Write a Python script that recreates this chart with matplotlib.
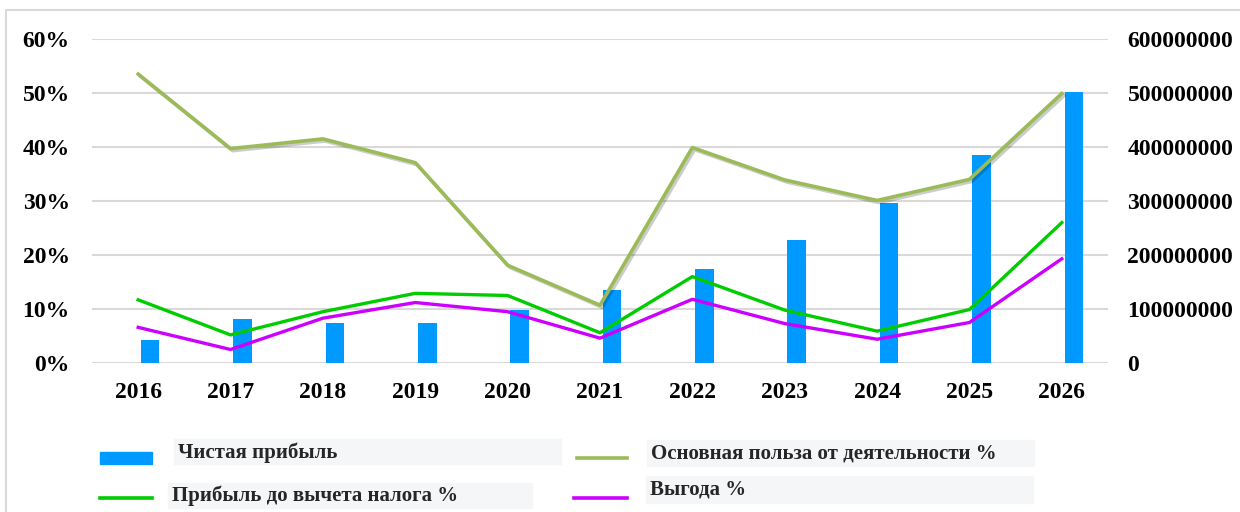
import matplotlib
matplotlib.use("Agg")
import matplotlib.pyplot as plt
import matplotlib.patheffects as pe
from matplotlib.patches import Rectangle
from matplotlib.lines import Line2D
from matplotlib.ticker import FuncFormatter

plt.rcParams['font.family'] = ['Liberation Serif', 'DejaVu Serif']
plt.rcParams['font.weight'] = 'bold'

# === data ===
years = ['2016', '2017', '2018', '2019', '2020', '2021', '2022', '2023', '2024', '2025', '2026']
net_profit = [43e6, 81e6, 75e6, 74e6, 98e6, 135e6, 175e6, 227e6, 297e6, 385e6, 502e6]
operating_pct = [53.5, 39.7, 41.5, 37.1, 18.1, 10.7, 39.9, 33.9, 30.1, 34.0, 49.9]
pretax_pct = [11.7, 5.2, 9.5, 12.9, 12.5, 5.6, 16.0, 9.8, 5.9, 9.9, 26.0]
benefit_pct = [6.6, 2.5, 8.3, 11.2, 9.5, 4.6, 11.8, 7.3, 4.4, 7.5, 19.3]

labels = ['Чистая прибыль', 'Основная польза от деятельности %',
          'Прибыль до вычета налога %', 'Выгода %']

c_bar = '#0099FF'
c_oper = '#9BBB59'
c_pretax = '#00CC00'
c_benefit = '#CC00FF'
c_text = '#000000'

W, H = 1240, 512
fig = plt.figure(figsize=(W / 100, H / 100), dpi=100)

# outer chart border
fig.patches.append(Rectangle((6 / W, -0.1), 1.2, 1 - 10 / H + 0.1, transform=fig.transFigure,
                             fill=False, edgecolor='#D9D9D9', linewidth=1.5))

ax = fig.add_axes([92 / W, 1 - 363 / H, (1108 - 92) / W, (363 - 39) / H])
x = list(range(len(years)))

# bars on the primary axes (right scale), lines on the twin (left scale)
ax.bar([i + 0.13 for i in x], net_profit, width=0.2, color=c_bar, zorder=2)
ax.set_ylim(0, 600e6)
ax.set_yticks([i * 100e6 for i in range(7)])
ax.yaxis.set_major_formatter(FuncFormatter(lambda v, p: f'{int(v)}'))
ax.grid(axis='y', color='#D9D9D9', linewidth=1.5, zorder=0)
ax.set_axisbelow(True)

ax2 = ax.twinx()
ax2.plot(x, operating_pct, color=c_oper, lw=2.6,
         path_effects=[pe.SimpleLineShadow(offset=(1.5, -1.5), alpha=0.2), pe.Normal()])
ax2.plot(x, pretax_pct, color=c_pretax, lw=2.4)
ax2.plot(x, benefit_pct, color=c_benefit, lw=2.4)
ax2.set_ylim(0, 60)
ax2.set_yticks(range(0, 61, 10))
ax2.yaxis.set_major_formatter(FuncFormatter(lambda v, p: f'{int(v)}%'))

ax.yaxis.tick_right()
ax.yaxis.set_label_position('right')
ax2.yaxis.tick_left()
ax2.yaxis.set_label_position('left')

ax.set_xlim(-0.5, len(years) - 0.5)
ax.set_xticks(x)
ax.set_xticklabels(years)

for a in (ax, ax2):
    for s in a.spines.values():
        s.set_visible(False)
    a.tick_params(length=0, labelsize=17, labelcolor=c_text)
ax.tick_params(axis='x', pad=14)
ax.tick_params(axis='y', pad=14)
ax2.tick_params(axis='y', pad=16)

# === legend ===
def fx(px):
    return px / W

def fy(py):
    return 1 - py / H

boxes = [(174, 439, 561, 464), (647, 440, 1034, 466), (168, 483, 532, 508), (646, 476, 1033, 503)]
text_pos = [(178, 453), (651, 453), (172, 496), (650, 489)]
for (x0, y0, x1, y1), (tx, ty), lab in zip(boxes, text_pos, labels):
    fig.patches.append(Rectangle((fx(x0), fy(y1)), fx(x1 - x0), (y1 - y0) / H,
                                 transform=fig.transFigure, color='#F5F6F8', zorder=0))
    fig.text(fx(tx), fy(ty), lab, fontsize=15, fontweight='bold', color='#262626',
             ha='left', va='center')

fig.patches.append(Rectangle((fx(100), fy(464)), fx(52), 12 / H,
                             transform=fig.transFigure, color=c_bar))
for (x0, x1, yy), col in [((577, 627, 458), c_oper), ((100, 152, 498), c_pretax),
                          ((574, 627, 498), c_benefit)]:
    fig.lines.append(Line2D([fx(x0), fx(x1)], [fy(yy), fy(yy)], transform=fig.transFigure,
                            color=col, lw=2.6))

fig.savefig('out.png', dpi=100)
